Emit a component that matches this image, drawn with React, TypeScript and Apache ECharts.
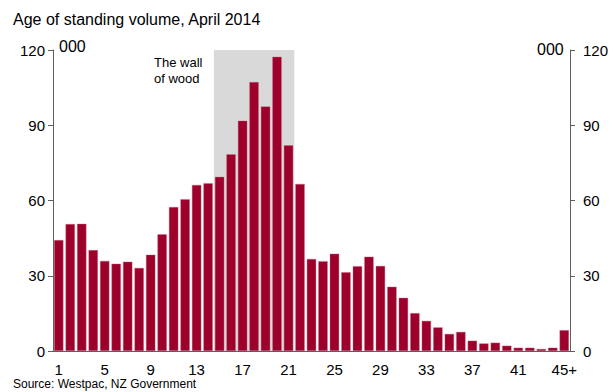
import React, { useEffect, useRef } from "react";
import * as echarts from "echarts";

// Age of standing timber (years), thousands of hectares
const ageLabels: string[] = [
  "1", "2", "3", "4", "5", "6", "7", "8", "9", "10",
  "11", "12", "13", "14", "15", "16", "17", "18", "19", "20",
  "21", "22", "23", "24", "25", "26", "27", "28", "29", "30",
  "31", "32", "33", "34", "35", "36", "37", "38", "39", "40",
  "41", "42", "43", "44", "45+",
];
const volume: number[] = [
  44.2, 50.6, 50.7, 40.2, 35.9, 34.8, 35.6, 33.1, 38.4, 46.5,
  57.4, 60.5, 66.2, 66.9, 69.4, 78.4, 91.8, 107.2, 97.5, 117.3,
  82.0, 66.6, 36.7, 35.8, 38.8, 31.4, 33.8, 37.6, 33.9, 25.6,
  21.2, 15.1, 12.0, 9.4, 6.8, 7.6, 4.1, 3.0, 3.3, 2.1,
  1.3, 1.3, 0.8, 1.3, 8.3,
];
// Ages covered by the "wall of wood" band
const wallStart = "15";
const wallEnd = "21";
const yTicks = { min: 0, max: 120, interval: 30 };

const FONT = "'Liberation Sans', Arial, sans-serif";
const AXIS_COLOR = "#5e5e5e";
const BAR_COLOR = "#9c002b";
const BAND_COLOR = "#d9d9d9";

export default function App() {
  const ref = useRef<HTMLDivElement>(null);

  useEffect(() => {
    if (!ref.current) return;
    const chart = echarts.init(ref.current, null, { renderer: "svg" });

    const yAxisBase = {
      type: "value" as const,
      min: yTicks.min,
      max: yTicks.max,
      interval: yTicks.interval,
      splitLine: { show: false },
      axisLine: { show: true, lineStyle: { color: AXIS_COLOR, width: 1 } },
      axisTick: { show: true, length: 5, lineStyle: { color: AXIS_COLOR } },
    };

    const startIdx = ageLabels.indexOf(wallStart);
    const endIdx = ageLabels.indexOf(wallEnd);

    // One grey rectangle spanning the full bands of the wall-of-wood ages
    const renderBand = (_params: any, api: any) => {
      const bandW = api.size([1, 0])[0];
      const topLeft = api.coord([api.value(0), yTicks.max]);
      const bottomRight = api.coord([api.value(1), yTicks.min]);
      return {
        type: "rect",
        shape: {
          x: topLeft[0] - bandW / 2,
          y: topLeft[1],
          width: bottomRight[0] - topLeft[0] + bandW,
          height: bottomRight[1] - topLeft[1],
        },
        style: { fill: BAND_COLOR },
        silent: true,
      };
    };

    chart.setOption({
      animation: false,
      textStyle: { fontFamily: FONT },
      title: {
        text: "Age of standing volume, April 2014",
        left: 13,
        top: 11,
        padding: 0,
        textStyle: { fontFamily: FONT, fontSize: 16, fontWeight: "normal", color: "#000" },
      },
      grid: { left: 53, right: 44, top: 50, bottom: 41, containLabel: false },
      xAxis: {
        type: "category",
        data: ageLabels,
        boundaryGap: true,
        axisLine: { show: true, lineStyle: { color: AXIS_COLOR, width: 1 } },
        axisTick: { show: false },
        axisLabel: {
          interval: 3,
          margin: 11,
          fontSize: 15,
          color: "#000",
          fontFamily: FONT,
        },
        z: 3,
      },
      yAxis: [
        {
          ...yAxisBase,
          position: "left",
          axisLabel: { margin: 8, fontSize: 15, color: "#000", fontFamily: FONT },
        },
        {
          ...yAxisBase,
          position: "right",
          axisLabel: { margin: 13, fontSize: 15, color: "#000", fontFamily: FONT },
        },
      ],
      series: [
        {
          type: "custom",
          renderItem: renderBand,
          data: [[startIdx, endIdx]],
          encode: { x: [0, 1] },
          xAxisIndex: 0,
          yAxisIndex: 0,
          silent: true,
          z: 1,
        },
        {
          type: "bar",
          data: volume,
          xAxisIndex: 0,
          yAxisIndex: 0,
          barCategoryGap: "19%",
          z: 2,
          itemStyle: { color: BAR_COLOR, borderColor: "#c8708a", borderWidth: 0.4 },
        },
      ],
      graphic: [
        {
          type: "text",
          left: 59,
          top: 38,
          style: { text: "000", fontSize: 16, fill: "#000", fontFamily: FONT },
        },
        {
          type: "text",
          left: 537,
          top: 41,
          style: { text: "000", fontSize: 16, fill: "#000", fontFamily: FONT },
        },
        {
          type: "text",
          left: 154,
          top: 54,
          style: {
            text: "The wall\nof wood",
            fontSize: 13,
            lineHeight: 16,
            fill: "#000",
            fontFamily: FONT,
          },
        },
        {
          type: "text",
          left: 13,
          top: 378,
          style: {
            text: "Source: Westpac, NZ Government",
            fontSize: 12,
            fill: "#000",
            fontFamily: FONT,
          },
        },
      ],
    });

    return () => chart.dispose();
  }, []);

  return (
    <div
      ref={ref}
      style={{ position: "absolute", left: 0, top: 0, width: 614, height: 392, background: "#fff" }}
    />
  );
}
